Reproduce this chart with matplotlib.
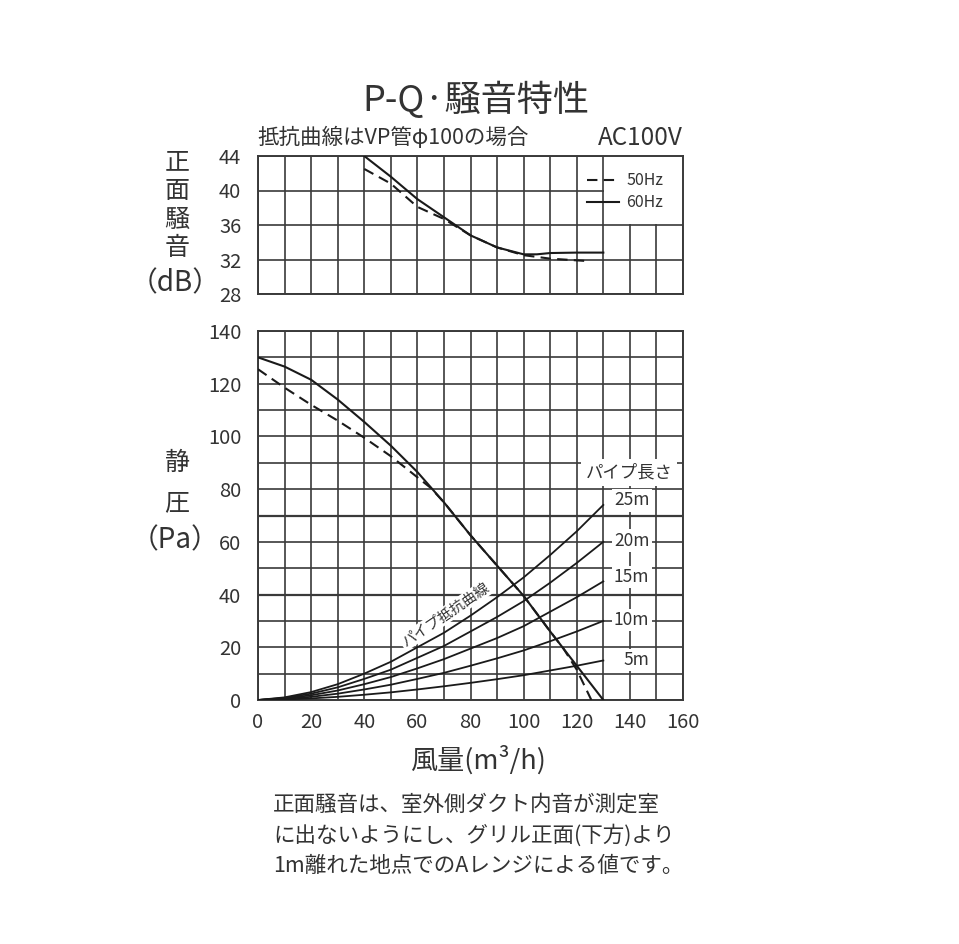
import matplotlib
matplotlib.use("Agg")
import matplotlib.pyplot as plt
from matplotlib.patches import Rectangle
from matplotlib.ticker import MultipleLocator

plt.rcParams['font.family'] = ['Noto Sans CJK JP', 'DejaVu Sans']

# 正面騒音 (dB)
noise_q_60 = [40, 50, 60, 70, 80, 90, 100, 105, 110, 120, 130]
noise_60 = [44.0, 41.6, 39.0, 36.9, 34.8, 33.4, 32.6, 32.6, 32.75, 32.8, 32.8]
noise_q_50 = [40, 50, 60, 70, 80, 90, 100, 105, 110, 120, 125]
noise_50 = [42.5, 40.8, 38.1, 36.7, 34.8, 33.4, 32.5, 32.3, 32.1, 31.9, 31.8]

# 静圧 (Pa)
pq_q_60 = [0, 10, 20, 30, 40, 50, 60, 70, 80, 90, 100, 110, 120, 130]
pq_60 = [130, 126.5, 121.5, 114, 105.5, 96.5, 86.5, 75, 62.5, 51, 39.5, 26, 13, 0]
pq_q_50 = [0, 10, 20, 30, 40, 50, 60, 65, 70, 80, 90, 100, 110, 115, 120, 125.5]
pq_50 = [125.5, 118.5, 112, 106, 99.5, 92.5, 84.5, 80.5, 75, 62.5, 51, 39.5, 26, 19.5, 11.5, 0]

# パイプ抵抗曲線
pipe_q = [0, 10, 20, 30, 40, 50, 60, 70, 80, 90, 100, 110, 120, 130]
pipe_25 = [0, 1, 3, 6, 10, 14.5, 20, 25.5, 32, 39, 46.5, 55, 64, 74]
pipe_20 = [0, 0.8, 2.4, 4.8, 8, 11.5, 16, 20.5, 26, 31.5, 37.5, 44.5, 52, 60]
pipe_15 = [0, 0.6, 1.8, 3.6, 6, 8.7, 12, 15.5, 19.5, 23.5, 28, 33.5, 39, 45]
pipe_10 = [0, 0.4, 1.2, 2.4, 4, 5.8, 8, 10.3, 13, 15.8, 18.8, 22.3, 26, 30]
pipe_5 = [0, 0.2, 0.6, 1.2, 2, 2.9, 4, 5.2, 6.5, 7.9, 9.4, 11.2, 13, 15]
pipe_lines = [pipe_25, pipe_20, pipe_15, pipe_10, pipe_5]
pipe_labels = ["25m", "20m", "15m", "10m", "5m"]
pipe_label_y = [75.7, 60.5, 46.7, 30.3, 15.1]

TXT = "#333333"
LN = "#1a1a1a"
GRID = "#3a3a3a"

fig = plt.figure(figsize=(9.59, 9.44), dpi=100)
W, H = 959.0, 944.0


def axes_px(left, top, right, bottom):
    return fig.add_axes([left / W, 1 - bottom / H, (right - left) / W, (bottom - top) / H])


def style_axes(ax):
    ax.set_axisbelow(True)
    ax.grid(which="both", color=GRID, linewidth=1.2)
    ax.tick_params(which="both", length=0, labelsize=14.5, colors=TXT)
    for s in ax.spines.values():
        s.set_color(GRID)
        s.set_linewidth(1.4)


# --- top: noise
ax1 = axes_px(258, 156, 683, 294)
ax1.set_xlim(0, 160)
ax1.set_ylim(28, 44)
ax1.xaxis.set_major_locator(MultipleLocator(10))
ax1.yaxis.set_major_locator(MultipleLocator(4))
ax1.set_xticklabels([])
style_axes(ax1)
ax1.tick_params(axis="y", pad=12)
# legend area is blanked out of the grid
ax1.add_patch(Rectangle((130.35, 36.12), 29.65, 7.88, facecolor="white",
                        edgecolor="none", zorder=1))
ax1.plot(noise_q_50, noise_50, color=LN, lw=1.5, ls=(0, (5, 3)), label="50Hz", zorder=3)
ax1.plot(noise_q_60, noise_60, color=LN, lw=1.5, label="60Hz", zorder=3)
leg = ax1.legend(loc="center left", bbox_to_anchor=(0.775, 0.74), frameon=False,
                 fontsize=11.5, handlelength=2.0, handletextpad=0.45,
                 labelspacing=0.3, borderpad=0, borderaxespad=0)
for t in leg.get_texts():
    t.set_color(TXT)

# --- bottom: P-Q
ax2 = axes_px(258, 331, 683, 700)
ax2.set_xlim(0, 160)
ax2.set_ylim(0, 140)
ax2.xaxis.set_major_locator(MultipleLocator(20))
ax2.xaxis.set_minor_locator(MultipleLocator(10))
ax2.yaxis.set_major_locator(MultipleLocator(20))
ax2.yaxis.set_minor_locator(MultipleLocator(10))
style_axes(ax2)
ax2.tick_params(axis="y", pad=12)
ax2.tick_params(axis="x", pad=9)
for yy in (40, 70):
    ax2.axhline(yy, color=GRID, lw=1.6, zorder=0.6)

ax2.plot(pq_q_50, pq_50, color=LN, lw=1.5, ls=(0, (5, 3)), zorder=3)
ax2.plot(pq_q_60, pq_60, color=LN, lw=1.5, zorder=3)
for ys in pipe_lines:
    ax2.plot(pipe_q, ys, color=LN, lw=1.3, zorder=3)

box = dict(facecolor="white", edgecolor="none", pad=1.5)
for lab, yy in zip(pipe_labels, pipe_label_y):
    xx = 142.6 if lab == "5m" else 140.7
    ax2.text(xx, yy, lab, ha="center", va="center", fontsize=12.5, color=TXT,
             bbox=box, zorder=4)
ax2.text(139.7, 86.3, "パイプ長さ", ha="center", va="center", fontsize=12.5,
         color=TXT, bbox=dict(facecolor="white", edgecolor="none", pad=3), zorder=4)
ax2.text(70.5, 32.2, "パイプ抵抗曲線", ha="center", va="center", fontsize=10.5,
         color=TXT, rotation=34, rotation_mode="anchor",
         bbox=dict(facecolor="white", edgecolor="none", pad=1), zorder=4)

# --- texts
fig.text(476 / W, 1 - 100 / H, "P-Q·騒音特性", ha="center", va="center",
         fontsize=26, color=TXT)
fig.text(257 / W, 1 - 138 / H, "抵抗曲線はVP管φ100の場合", ha="left", va="center",
         fontsize=15.5, color=TXT)
fig.text(683 / W, 1 - 138 / H, "AC100V", ha="right", va="center",
         fontsize=17.5, color=TXT)

for ch, y in zip("正面騒音", [162, 191, 220, 248]):
    fig.text(177 / W, 1 - y / H, ch, ha="center", va="center", fontsize=18, color=TXT)
fig.text(175 / W, 1 - 283 / H, "（dB）", ha="center", va="center", fontsize=20, color=TXT)

fig.text(177 / W, 1 - 463 / H, "静", ha="center", va="center", fontsize=18, color=TXT)
fig.text(177 / W, 1 - 503 / H, "圧", ha="center", va="center", fontsize=18, color=TXT)
fig.text(175 / W, 1 - 540 / H, "（Pa）", ha="center", va="center", fontsize=20, color=TXT)

fig.text(478 / W, 1 - 760 / H, "風量(m³/h)", ha="center", va="center",
         fontsize=19.5, color=TXT)

notes = ["正面騒音は、室外側ダクト内音が測定室",
         "に出ないようにし、グリル正面(下方)より",
         "1m離れた地点でのAレンジによる値です。"]
for i, line in enumerate(notes):
    fig.text(273 / W, 1 - (805 + 30.5 * i) / H, line, ha="left", va="center",
             fontsize=15.5, color=TXT)

fig.savefig("out.png", dpi=100, facecolor="white")
